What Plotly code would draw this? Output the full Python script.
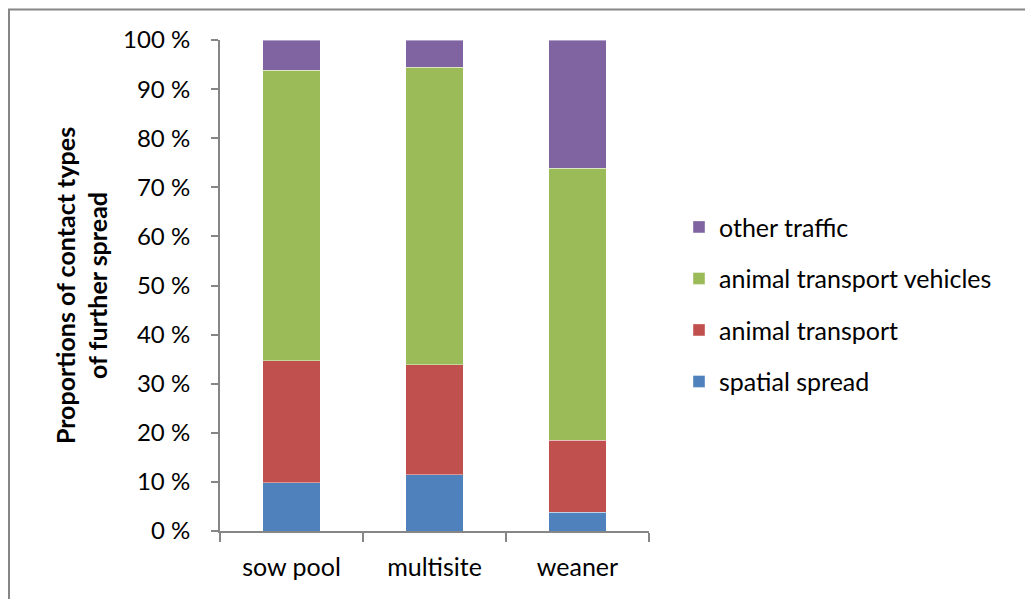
import plotly.graph_objects as go

categories = ["sow pool", "multisite", "weaner"]
spatial_spread = [9.8, 11.5, 3.8]
animal_transport = [24.9, 22.4, 14.7]
animal_transport_vehicles = [59.1, 60.6, 55.4]
other_traffic = [6.2, 5.5, 26.1]
y_ticks = [0, 10, 20, 30, 40, 50, 60, 70, 80, 90, 100]
y_tick_labels = [f"{v} %" for v in y_ticks]

series = [
    ("spatial spread", spatial_spread, "#4F81BD"),
    ("animal transport", animal_transport, "#C0504D"),
    ("animal transport vehicles", animal_transport_vehicles, "#9BBB59"),
    ("other traffic", other_traffic, "#8064A2"),
]

FONT = "Lato, Calibri, sans-serif"

W, H = 1025, 591
L, R, T, B = 212, 384, 31.5, 68
PW = W - L - R
PH = H - T - B

fig = go.Figure()
n = len(series)
for i, (name, vals, color) in enumerate(series):
    fig.add_trace(go.Bar(
        name=name, x=categories, y=vals, legendgroup=name,
        legendrank=n - i,
        marker=dict(color=color, line=dict(color="rgba(255,255,255,0.4)", width=1)),
        width=0.4,
    ))

fig.update_layout(
    barmode="stack",
    width=W, height=H,
    margin=dict(l=L, r=R, t=T, b=B, autoexpand=False),
    paper_bgcolor="white", plot_bgcolor="white",
    font=dict(family=FONT, size=25, color="#000000"),
    showlegend=True,
    legend=dict(
        x=(679 - 8 - L) / PW, y=0.462, xanchor="left", yanchor="middle",
        traceorder="grouped", tracegroupgap=16,
        font=dict(family=FONT, size=25, color="#000000"),
        itemwidth=30,
    ),
    xaxis=dict(
        type="category", showline=True, linecolor="#868686", linewidth=2,
        ticks="outside", tickson="boundaries", ticklen=9, tickcolor="#868686",
        tickwidth=2, showgrid=False, ticklabelstandoff=13,
        tickfont=dict(family=FONT, size=25, color="#000000"),
    ),
    yaxis=dict(
        range=[0, 100], tickmode="array", tickvals=y_ticks, ticktext=y_tick_labels,
        showline=True, linecolor="#868686", linewidth=2,
        ticks="outside", ticklen=7, tickcolor="#868686", tickwidth=2,
        showgrid=False, zeroline=False, ticklabelstandoff=16,
        tickfont=dict(family=FONT, size=24, color="#000000"),
        title=dict(text="Proportions of contact types<br>of further spread",
                   font=dict(family=FONT, size=25, color="#000000", weight="bold"),
                   standoff=8),
    ),
    shapes=[dict(type="rect", xref="paper", yref="paper",
                 x0=(1 - L) / PW, x1=(W + 50 - L) / PW,
                 y0=-(B + 50) / PH, y1=1 + (T - 1) / PH,
                 line=dict(color="#868686", width=2))],
)

fig.write_html("out.html")
